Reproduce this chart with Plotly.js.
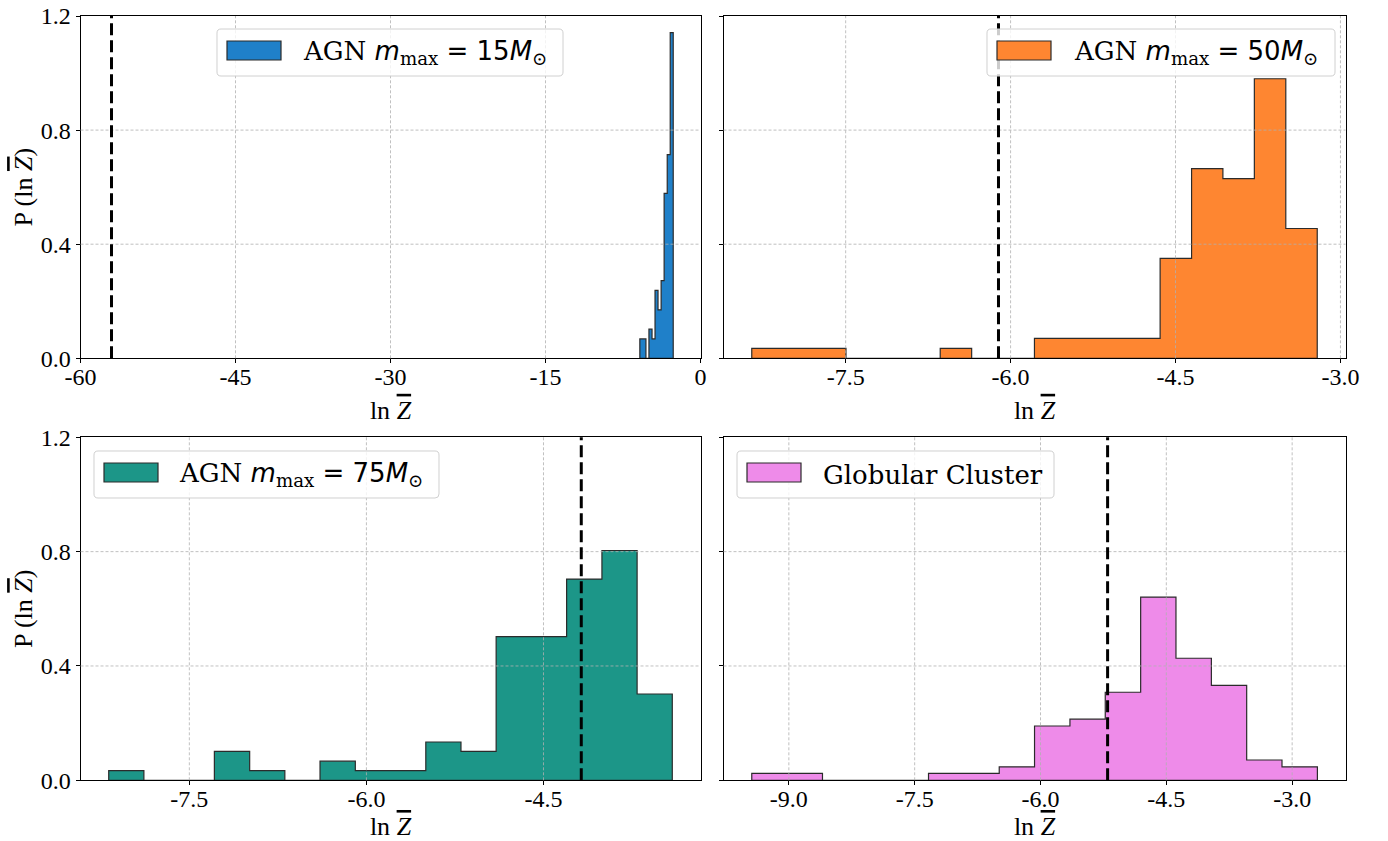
<!DOCTYPE html>
<html><head><meta charset="utf-8">
<script src="https://cdn.plot.ly/plotly-3.0.1.min.js"></script>
<style>html,body{margin:0;padding:0;background:#fff}</style>
</head><body><div id="chart" style="width:1388px;height:841px"></div>
<script>
// ---------------- data ----------------
// AGN m_max = 15 Msun
const agn15Edges   = [-5.87,-5.58,-5.28,-4.99,-4.69,-4.40,-4.11,-3.81,-3.52,-3.22,-2.93,-2.64];
const agn15Density = [0.068,0.068,0,0.102,0.068,0.238,0.170,0.272,0.578,0.714,1.142];
// AGN m_max = 50 Msun
const agn50Edges   = [-8.354,-8.068,-7.783,-7.497,-7.211,-6.926,-6.640,-6.354,-6.069,-5.783,-5.497,-5.211,-4.926,-4.640,-4.354,-4.069,-3.783,-3.497,-3.211];
const agn50Density = [0.035,0.035,0.035,0,0,0,0.035,0,0,0.070,0.070,0.070,0.070,0.350,0.665,0.630,0.980,0.455];
// AGN m_max = 75 Msun
const agn75Edges   = [-8.183,-7.885,-7.586,-7.288,-6.989,-6.691,-6.393,-6.094,-5.796,-5.497,-5.199,-4.901,-4.602,-4.304,-4.005,-3.707,-3.409];
const agn75Density = [0.034,0,0,0.101,0.034,0,0.067,0.034,0.034,0.134,0.101,0.503,0.503,0.704,0.804,0.302];
// Globular cluster
const gcEdges   = [-9.442,-9.021,-8.599,-8.178,-7.756,-7.335,-6.914,-6.492,-6.071,-5.649,-5.228,-4.806,-4.385,-3.963,-3.542,-3.121,-2.699];
const gcDensity = [0.024,0.024,0,0,0,0.024,0.024,0.047,0.190,0.214,0.308,0.641,0.427,0.332,0.071,0.047];
// observed ln Z (dashed lines), panel order
const observedLnZ = [-57.0, -6.11, -4.18, -5.20];
// legend labels
const ZBAR = '<span style="text-decoration:overline"><i>Z</i></span>';
const legendLabels = [
  'AGN <span style="font-family:DejaVu Sans"><i>m</i></span><sub>max</sub><span style="font-family:DejaVu Sans"> = 15<i>M</i></span><sub>⊙</sub>',
  'AGN <span style="font-family:DejaVu Sans"><i>m</i></span><sub>max</sub><span style="font-family:DejaVu Sans"> = 50<i>M</i></span><sub>⊙</sub>',
  'AGN <span style="font-family:DejaVu Sans"><i>m</i></span><sub>max</sub><span style="font-family:DejaVu Sans"> = 75<i>M</i></span><sub>⊙</sub>',
  'Globular Cluster'
];
// ticks
const xTicks1 = [-60,-45,-30,-15,0];
const xTickText1 = ['-60','-45','-30','-15','0'];
const xTicks2 = [-7.5,-6.0,-4.5,-3.0];
const xTickText2 = ['-7.5','-6.0','-4.5','-3.0'];
const xTicks3 = [-7.5,-6.0,-4.5];
const xTickText3 = ['-7.5','-6.0','-4.5'];
const xTicks4 = [-9.0,-7.5,-6.0,-4.5,-3.0];
const xTickText4 = ['-9.0','-7.5','-6.0','-4.5','-3.0'];
const yTicks = [0,0.4,0.8,1.2];
const yTickText = ['0.0','0.4','0.8','1.2'];

// ---------------- styling / layout ----------------
const W = 1388, H = 841;
const px = v => v / W;
const py = v => 1 - v / H;
const colors = ['#1f80c9', '#fe8631', '#1c9688', '#ee8be9'];
const xRanges = [[-60, 0], [-8.611, -2.954], [-8.422, -3.170], [-9.779, -2.364]];
const panels = [
  {edges: agn15Edges, dens: agn15Density, xt: xTicks1, xtt: xTickText1},
  {edges: agn50Edges, dens: agn50Density, xt: xTicks2, xtt: xTickText2},
  {edges: agn75Edges, dens: agn75Density, xt: xTicks3, xtt: xTickText3},
  {edges: gcEdges,    dens: gcDensity,    xt: xTicks4, xtt: xTickText4}
];
const colDom = [[px(80.5), px(700.5)], [px(723.5), px(1345.5)]];
const rowDom = [[py(358.3), py(16)], [py(780.3), py(437.3)]];

// legend geometry in px: box [x0,x1,y0,y1], text start x
const legendBoxes = [
  {box: [217, 563, 29, 76], tx: 302},
  {box: [987, 1335, 29, 76], tx: 1073},
  {box: [94, 439, 451, 498], tx: 178},
  {box: [737, 1054, 451, 498], tx: 822}
];

function stepPolygon(edges, dens) {
  const xs = [edges[0]], ys = [0];
  for (let i = 0; i < dens.length; i++) {
    xs.push(edges[i], edges[i + 1]);
    ys.push(dens[i], dens[i]);
  }
  xs.push(edges[edges.length - 1], edges[0]);
  ys.push(0, 0);
  return {xs, ys};
}

function roundRectPath(x0, x1, y0, y1, r) {
  const X = v => px(v).toFixed(6), Y = v => py(v).toFixed(6);
  return `M${X(x0 + r)},${Y(y0)} L${X(x1 - r)},${Y(y0)} Q${X(x1)},${Y(y0)} ${X(x1)},${Y(y0 + r)} ` +
         `L${X(x1)},${Y(y1 - r)} Q${X(x1)},${Y(y1)} ${X(x1 - r)},${Y(y1)} L${X(x0 + r)},${Y(y1)} ` +
         `Q${X(x0)},${Y(y1)} ${X(x0)},${Y(y1 - r)} L${X(x0)},${Y(y0 + r)} Q${X(x0)},${Y(y0)} ${X(x0 + r)},${Y(y0)} Z`;
}

const serif = 'Liberation Serif';
const traces = [];
const shapes = [];
const annotations = [];
const layout = {
  width: W, height: H,
  margin: {l: 0, r: 0, t: 0, b: 0},
  paper_bgcolor: '#fff', plot_bgcolor: '#fff',
  showlegend: false,
  font: {family: serif, color: '#000', size: 24}
};

panels.forEach((p, i) => {
  const n = i === 0 ? '' : String(i + 1);
  const xa = 'x' + n, ya = 'y' + n;
  const col = i % 2, row = Math.floor(i / 2);
  const poly = stepPolygon(p.edges, p.dens);
  traces.push({
    type: 'scatter', mode: 'lines', x: poly.xs, y: poly.ys,
    xaxis: xa, yaxis: ya, fill: 'toself', fillcolor: colors[i],
    line: {color: '#2b2b2b', width: 1.2}, hoverinfo: 'skip', showlegend: false
  });
  layout['xaxis' + n] = {
    domain: colDom[col], anchor: ya, range: xRanges[i],
    tickmode: 'array', tickvals: p.xt, ticktext: p.xtt,
    showline: true, linecolor: '#000', linewidth: 1, mirror: true,
    ticks: 'outside', ticklen: 4, tickwidth: 1, tickcolor: '#000',
    ticklabelstandoff: -7,
    showgrid: false, zeroline: false, automargin: false,
    tickfont: {family: serif, size: 24, color: '#000'},
    title: {text: 'ln ' + ZBAR, font: {family: serif, size: 26, color: '#000'}, standoff: 11}
  };
  const yax = {
    domain: rowDom[row], anchor: xa, range: [0, 1.2],
    tickmode: 'array', tickvals: yTicks, ticktext: yTickText,
    showticklabels: col === 0,
    showline: true, linecolor: '#000', linewidth: 1, mirror: true,
    ticks: 'outside', ticklen: 4, tickwidth: 1, tickcolor: '#000',
    showgrid: false, zeroline: false, automargin: false,
    tickfont: {family: serif, size: 24, color: '#000'}
  };
  if (col === 0) yax.title = {text: 'P (ln ' + ZBAR + ')', font: {family: serif, size: 26, color: '#000'}, standoff: 0};
  layout['yaxis' + n] = yax;
  // grid lines drawn above the bars (as in the reference)
  const gridLine = {color: '#b0b0b0', width: 0.8, dash: '3px,2px'};
  p.xt.forEach(v => {
    if (v > xRanges[i][0] + 1e-9 && v < xRanges[i][1] - 1e-9)
      shapes.push({type: 'line', xref: xa, yref: ya + ' domain', x0: v, x1: v, y0: 0, y1: 1, line: gridLine, layer: 'above'});
  });
  yTicks.forEach(v => {
    if (v > 0 && v < 1.2)
      shapes.push({type: 'line', xref: xa + ' domain', yref: ya, x0: 0, x1: 1, y0: v, y1: v, line: gridLine, layer: 'above'});
  });
  // observed value
  shapes.push({type: 'line', xref: xa, yref: ya + ' domain', x0: observedLnZ[i], x1: observedLnZ[i], y0: 0, y1: 1,
               line: {color: '#000', width: 3, dash: '12px,5px'}, layer: 'above'});
});

// legends
legendBoxes.forEach((lb, i) => {
  const [x0, x1, y0, y1] = lb.box;
  shapes.push({type: 'path', xref: 'paper', yref: 'paper', path: roundRectPath(x0, x1, y0, y1, 4),
               line: {color: '#d0d0d0', width: 1}, fillcolor: 'rgba(255,255,255,0.8)', layer: 'above'});
  shapes.push({type: 'rect', xref: 'paper', yref: 'paper', x0: px(x0 + 10), x1: px(x0 + 64), y0: py(y0 + 31), y1: py(y0 + 12),
               line: {color: '#2b2b2b', width: 1.2}, fillcolor: colors[i], layer: 'above'});
  annotations.push({xref: 'paper', yref: 'paper', x: px(lb.tx), y: py((y0 + y1) / 2), xanchor: 'left', yanchor: 'middle',
                    showarrow: false, text: legendLabels[i], borderpad: 0,
                    font: {family: 'DejaVu Serif', size: 26, color: '#000'}});
});

layout.shapes = shapes;
layout.annotations = annotations;
Plotly.newPlot('chart', traces, layout, {staticPlot: true, displayModeBar: false});
</script>
</body></html>
